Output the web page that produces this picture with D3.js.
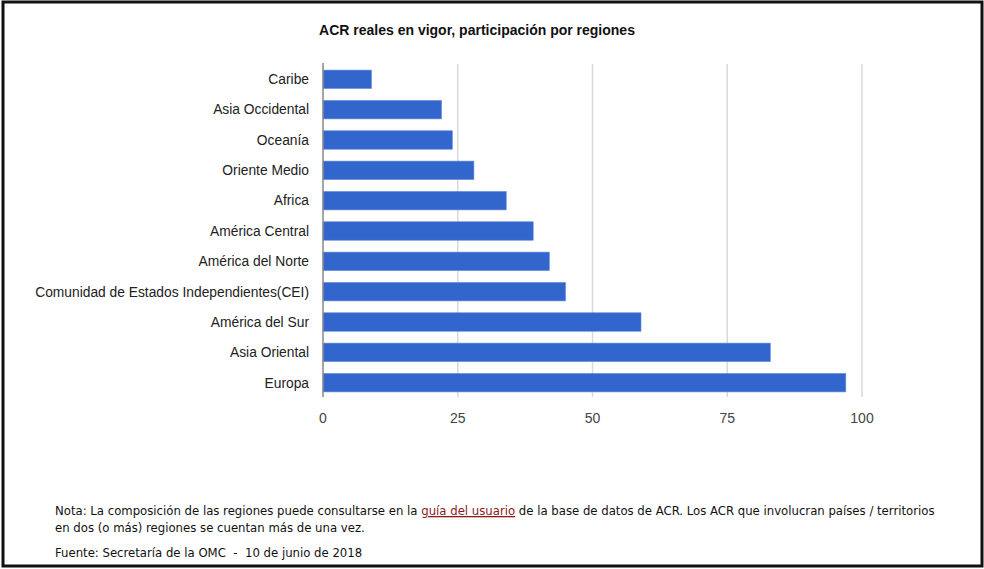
<!DOCTYPE html>
<html lang="es">
<head>
  <meta charset="UTF-8">
  <title>ACR reales en vigor</title>
  <script src="https://d3js.org/d3.v7.min.js"></script>
  <style>
    body { margin: 0; background: #fff; }
    svg { display: block; font-family: "Liberation Sans", Arial, sans-serif; }
  </style>
</head>
<body>
  <svg width="984" height="569"></svg>
  <script>
    const regions = ["Caribe", "Asia Occidental", "Oceanía", "Oriente Medio", "Africa",
      "América Central", "América del Norte", "Comunidad de Estados Independientes(CEI)",
      "América del Sur", "Asia Oriental", "Europa"];
    const values = [9, 22, 24, 28, 34, 39, 42, 45, 59, 83, 97];
    const ticks = [0, 25, 50, 75, 100];

    const title = "ACR reales en vigor, participación por regiones";
    const note1a = "Nota: La composición de las regiones puede consultarse en la ";
    const noteLink = "guía del usuario";
    const note1b = " de la base de datos de ACR. Los ACR que involucran países / territorios";
    const note2 = "en dos (o más) regiones se cuentan más de una vez.";
    const source = "Fuente: Secretaría de la OMC \u00a0-\u00a0 10 de junio de 2018";

    const svg = d3.select("svg");

    // frame
    svg.append("rect")
      .attr("x", 3).attr("y", 2).attr("width", 979).attr("height", 564)
      .attr("fill", "none").attr("stroke", "#111").attr("stroke-width", 3);

    const x = d3.scaleLinear().domain([0, 100]).range([323, 862]);
    const y = d3.scaleBand().domain(regions).range([64, 398]).paddingInner(0.39).paddingOuter(0.2);

    svg.append("text")
      .attr("x", 477).attr("y", 35)
      .attr("text-anchor", "middle")
      .attr("font-size", 14).attr("font-weight", "bold")
      .attr("fill", "#111")
      .text(title);

    // gridlines
    svg.append("g").selectAll("line")
      .data(ticks.slice(1))
      .join("line")
      .attr("x1", d => x(d)).attr("x2", d => x(d))
      .attr("y1", 64).attr("y2", 397)
      .attr("stroke", "#d9d9d9").attr("stroke-width", 1.5);

    // bars
    svg.append("g").selectAll("rect")
      .data(values)
      .join("rect")
      .attr("x", x(0))
      .attr("y", (d, i) => y(regions[i]))
      .attr("width", d => x(d) - x(0))
      .attr("height", y.bandwidth())
      .attr("fill", "#3366cc")
      .attr("stroke", "#6a8fdc").attr("stroke-width", 0.6);

    // baseline
    svg.append("line")
      .attr("x1", x(0)).attr("x2", x(0))
      .attr("y1", 63).attr("y2", 397)
      .attr("stroke", "#888").attr("stroke-width", 1.5);

    // category labels
    svg.append("g").selectAll("text")
      .data(regions)
      .join("text")
      .attr("x", 309)
      .attr("y", d => y(d) + y.bandwidth() / 2)
      .attr("dy", "0.35em")
      .attr("text-anchor", "end")
      .attr("font-size", 13.8)
      .attr("fill", "#222")
      .text(d => d);

    // tick labels
    svg.append("g").selectAll("text")
      .data(ticks)
      .join("text")
      .attr("x", d => x(d))
      .attr("y", 418)
      .attr("dy", "0.35em")
      .attr("text-anchor", "middle")
      .attr("font-size", 14)
      .attr("fill", "#444")
      .text(d => d);

    // footer
    const foot = svg.append("g")
      .attr("font-family", "'DejaVu Sans Condensed', 'DejaVu Sans', sans-serif")
      .attr("font-size", 13)
      .attr("fill", "#111");

    const l1 = foot.append("text").attr("x", 55).attr("y", 515);
    l1.append("tspan").text(note1a);
    l1.append("tspan").attr("fill", "#8b1a1a").attr("text-decoration", "underline").text(noteLink);
    l1.append("tspan").text(note1b);

    foot.append("text").attr("x", 55).attr("y", 532).text(note2);
    foot.append("text").attr("x", 55).attr("y", 557).text(source);
  </script>
</body>
</html>
